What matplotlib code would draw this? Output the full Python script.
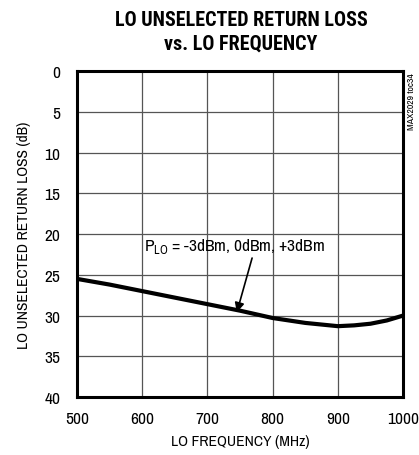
import matplotlib
matplotlib.use("Agg")
import matplotlib.pyplot as plt

# LO unselected return loss vs LO frequency
freq_mhz = [500, 550, 600, 650, 700, 750, 800, 850, 900, 925, 950, 975, 1000]
return_loss_db = [25.5, 26.2, 27.0, 27.8, 28.6, 29.4, 30.3, 30.9, 31.3, 31.2, 31.0, 30.6, 30.0]

x_ticks = [500, 600, 700, 800, 900, 1000]
y_ticks = [0, 5, 10, 15, 20, 25, 30, 35, 40]

body = "Archivo Narrow"
plt.rcParams["font.family"] = [body, "DejaVu Sans"]
plt.rcParams["mathtext.fontset"] = "custom"
plt.rcParams["mathtext.rm"] = body

fig = plt.figure(figsize=(4.19, 4.56), dpi=100)
ax = fig.add_axes([0.184, 0.127, 0.778, 0.715])

ax.plot(freq_mhz, return_loss_db, color="black", lw=3, solid_capstyle="butt")

ax.set_xlim(500, 1000)
ax.set_ylim(40, 0)
ax.set_xticks(x_ticks)
ax.set_yticks(y_ticks)
ax.grid(True, color="#555555", lw=0.9)
ax.tick_params(length=0, labelsize=12.5)
ax.tick_params(axis="y", pad=12)
ax.tick_params(axis="x", pad=10)
for s in ax.spines.values():
    s.set_linewidth(2.2)

ax.set_xlabel("LO FREQUENCY (MHz)", fontsize=11.2, labelpad=6)
ax.set_ylabel("LO UNSELECTED RETURN LOSS (dB)", fontsize=11.2, labelpad=10)

fig.text(0.575, 0.975, "LO UNSELECTED RETURN LOSS", ha="center", va="top",
         fontsize=14.5, fontweight="bold", family="Roboto Condensed")
fig.text(0.575, 0.925, "vs. LO FREQUENCY", ha="center", va="top",
         fontsize=14.5, fontweight="bold", family="Roboto Condensed")

ax.annotate(r"P$_{\mathregular{LO}}$ = -3dBm, 0dBm, +3dBm", xy=(745, 29.6), xytext=(603, 22.6),
            fontsize=12.5, va="bottom",
            arrowprops=dict(arrowstyle="-|>", color="black", lw=1.2, mutation_scale=14,
                            shrinkA=0, shrinkB=0, relpos=(0.6, 0)))

fig.text(0.982, 0.84, "MAX2029 toc34", rotation=90, ha="center", va="top", fontsize=7)

fig.savefig("out.png", dpi=100)
